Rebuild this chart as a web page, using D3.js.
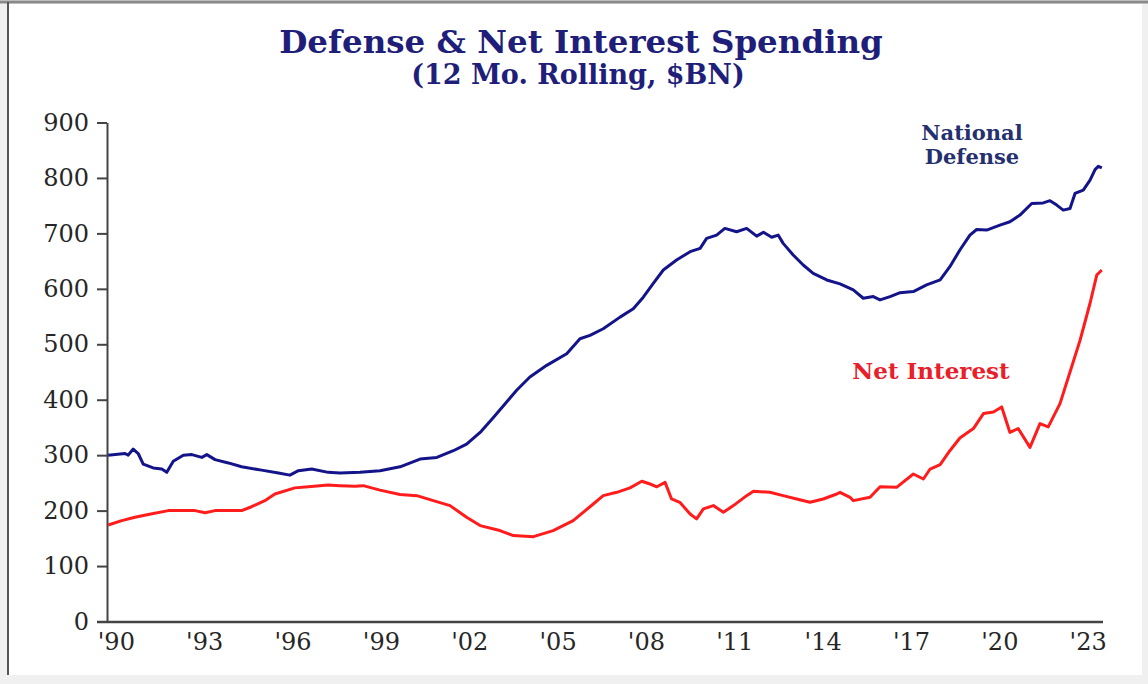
<!DOCTYPE html>
<html>
<head>
<meta charset="utf-8">
<script src="https://cdn.jsdelivr.net/npm/d3@7"></script>
<style>
  html, body { margin: 0; padding: 0; background: #ffffff; }
  svg { display: block; }
</style>
</head>
<body>
<svg id="chart" width="1148" height="684"></svg>
<script>
// ---------------- data ----------------
const titleText = "Defense & Net Interest Spending";
const subtitleText = "(12 Mo. Rolling, $BN)";

const yTickValues = [0, 100, 200, 300, 400, 500, 600, 700, 800, 900];
const xTickYears = [1990, 1993, 1996, 1999, 2002, 2005, 2008, 2011, 2014, 2017, 2020, 2023];
const xTickLabels = ["'90", "'93", "'96", "'99", "'02", "'05", "'08", "'11", "'14", "'17", "'20", "'23"];

// National Defense, 12-month rolling, $BN (decimal year, value)
const defenseYears = [
  1989.74, 1990.31, 1990.42, 1990.59, 1990.76, 1990.93, 1991.27, 1991.56, 1991.73, 1991.95,
  1992.29, 1992.58, 1992.92, 1993.09, 1993.37, 1993.82, 1994.27, 1994.95, 1995.52, 1995.91,
  1996.20, 1996.65, 1997.21, 1997.61, 1998.29, 1998.97, 1999.65, 2000.33, 2000.90, 2001.46,
  2001.91, 2002.37, 2002.82, 2003.27, 2003.61, 2004.06, 2004.63, 2005.31, 2005.76, 2006.10,
  2006.55, 2007.12, 2007.57, 2007.91, 2008.25, 2008.59, 2009.04, 2009.50, 2009.84, 2010.06,
  2010.40, 2010.68, 2011.08, 2011.42, 2011.76, 2011.99, 2012.27, 2012.49, 2012.66, 2013.00,
  2013.34, 2013.68, 2014.14, 2014.59, 2015.04, 2015.38, 2015.72, 2015.95, 2016.29, 2016.63,
  2017.08, 2017.53, 2017.99, 2018.32, 2018.66, 2019.00, 2019.23, 2019.57, 2020.02, 2020.36,
  2020.70, 2021.10, 2021.49, 2021.72, 2021.95, 2022.17, 2022.40, 2022.57, 2022.85, 2023.08,
  2023.25, 2023.36, 2023.48
];
const defenseValues = [
  300, 303, 300, 311, 303, 284, 277, 275, 269, 289,
  300, 301, 296, 301, 292, 286, 279, 273, 268, 264,
  272, 275, 269, 268, 269, 272, 279, 293, 296, 308,
  320, 341, 368, 396, 417, 441, 462, 483, 510, 516,
  528, 549, 564, 585, 610, 634, 652, 667, 673, 691,
  697, 709, 703, 709, 695, 702, 693, 697, 682, 661,
  643, 628, 616, 609, 598, 583, 586, 580, 586, 593,
  595, 607, 616, 640, 670, 697, 707, 706, 715, 721,
  733, 754, 755, 759, 751, 742, 745, 772, 778, 796,
  815, 821, 818
];

// Net Interest, 12-month rolling, $BN (decimal year, value)
const interestYears = [
  1989.74, 1990.20, 1990.65, 1991.10, 1991.78, 1992.69, 1993.03, 1993.37, 1994.27, 1994.61,
  1995.06, 1995.40, 1996.08, 1996.54, 1997.21, 1997.61, 1998.12, 1998.40, 1998.97, 1999.65,
  2000.22, 2000.78, 2001.35, 2001.91, 2002.37, 2003.04, 2003.50, 2004.18, 2004.85, 2005.53,
  2006.10, 2006.55, 2007.01, 2007.46, 2007.86, 2008.14, 2008.37, 2008.65, 2008.87, 2009.15,
  2009.50, 2009.72, 2009.95, 2010.29, 2010.63, 2010.97, 2011.42, 2011.65, 2012.21, 2012.66,
  2013.12, 2013.57, 2014.02, 2014.48, 2014.59, 2014.93, 2015.04, 2015.61, 2015.95, 2016.51,
  2017.08, 2017.42, 2017.65, 2017.99, 2018.32, 2018.66, 2019.12, 2019.46, 2019.80, 2020.08,
  2020.36, 2020.64, 2021.04, 2021.38, 2021.66, 2022.06, 2022.40, 2022.74, 2023.08, 2023.31,
  2023.48
];
const interestValues = [
  174, 182, 188, 193, 200, 200, 196, 200, 200, 207,
  218, 230, 241, 243, 246, 245, 244, 245, 237, 229,
  227, 218, 209, 188, 173, 164, 155, 153, 164, 182,
  207, 227, 233, 241, 253, 248, 243, 251, 221, 215,
  194, 185, 203, 209, 197, 209, 227, 235, 233, 227,
  221, 215, 221, 230, 233, 224, 218, 224, 243, 242,
  266, 257, 275, 283, 308, 331, 348, 375, 378, 387,
  341, 348, 314, 357, 351, 393, 450, 507, 574, 625,
  634
];

const seriesNames = ["National", "Defense"];
const interestName = "Net Interest";

// ---------------- drawing ----------------
const svg = d3.select("#chart");
const W = 1148, H = 684;

// frame
svg.append("rect").attr("x", 0).attr("y", 0).attr("width", W).attr("height", H).attr("fill", "#f0f0f0");
svg.append("rect").attr("x", 8).attr("y", 4).attr("width", 1134).attr("height", 671).attr("fill", "#ffffff");
svg.append("line").attr("x1", 0).attr("x2", W).attr("y1", 2).attr("y2", 2)
  .attr("stroke", "#8a8a8a").attr("stroke-width", 3);
svg.append("line").attr("x1", 8).attr("x2", 8).attr("y1", 2).attr("y2", 675)
  .attr("stroke", "#555").attr("stroke-width", 2);

const x = d3.scaleLinear().domain([1989.7, 2023.52]).range([107, 1103]);
const y = d3.scaleLinear().domain([0, 900]).range([621.5, 122.5]);

// title
svg.append("text")
  .attr("x", 581).attr("y", 53)
  .attr("text-anchor", "middle")
  .attr("font-family", "'DejaVu Serif', serif")
  .attr("font-weight", "bold")
  .attr("font-size", 32.5)
  .attr("fill", "#1f1f7a")
  .text(titleText);
svg.append("text")
  .attr("x", 578).attr("y", 84)
  .attr("text-anchor", "middle")
  .attr("font-family", "'DejaVu Serif', serif")
  .attr("font-weight", "bold")
  .attr("font-size", 27)
  .attr("fill", "#1f1f7a")
  .text(subtitleText);

// axes
const yAxis = d3.axisLeft(y).tickValues(yTickValues).tickSize(10).tickSizeOuter(0).tickPadding(8);
const gy = svg.append("g").attr("transform", "translate(107,0)").call(yAxis);
gy.select(".domain").attr("stroke", "#444").attr("stroke-width", 2);
gy.selectAll(".tick line").attr("stroke", "#444").attr("stroke-width", 2);
gy.selectAll(".tick text")
  .attr("font-family", "'DejaVu Serif', serif")
  .attr("font-size", 24)
  .attr("fill", "#262626");

const xAxis = d3.axisBottom(x).tickValues(xTickYears)
  .tickFormat((d, i) => xTickLabels[i]).tickSize(0).tickSizeOuter(0).tickPadding(11);
const gx = svg.append("g").attr("transform", "translate(0,621.5)").call(xAxis);
gx.select(".domain").attr("stroke", "#444").attr("stroke-width", 2.5)
  .attr("d", `M97,0.5H1103`);
gx.selectAll(".tick text")
  .attr("font-family", "'DejaVu Serif', serif")
  .attr("font-size", 24)
  .attr("fill", "#262626");

// lines
const line = d3.line().x(d => x(d[0])).y(d => y(d[1]));
const defenseData = defenseYears.map((t, i) => [t, defenseValues[i]]);
const interestData = interestYears.map((t, i) => [t, interestValues[i]]);

svg.append("path").datum(interestData)
  .attr("d", line).attr("fill", "none")
  .attr("stroke", "#ff1c1c").attr("stroke-width", 3).attr("stroke-linejoin", "round");
svg.append("path").datum(defenseData)
  .attr("d", line).attr("fill", "none")
  .attr("stroke", "#14148a").attr("stroke-width", 3).attr("stroke-linejoin", "round");

// series labels
const lab = svg.append("text")
  .attr("text-anchor", "middle")
  .attr("font-family", "'DejaVu Serif', serif")
  .attr("font-weight", "bold")
  .attr("font-size", 21)
  .attr("fill", "#25306e");
lab.append("tspan").attr("x", 972).attr("y", 140).text(seriesNames[0]);
lab.append("tspan").attr("x", 972).attr("y", 164).text(seriesNames[1]);

svg.append("text")
  .attr("x", 931).attr("y", 379)
  .attr("text-anchor", "middle")
  .attr("font-family", "'DejaVu Serif', serif")
  .attr("font-weight", "bold")
  .attr("font-size", 23)
  .attr("fill", "#e8202a")
  .text(interestName);
</script>
</body>
</html>
